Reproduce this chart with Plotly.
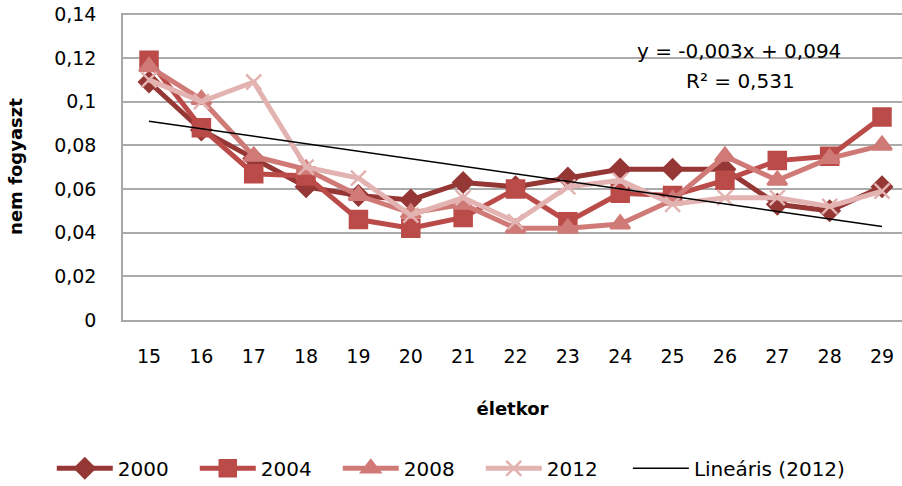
import numpy as np
import plotly.graph_objects as go

eletkor = list(range(15, 30))

ev_2000 = [0.109, 0.087, 0.074, 0.061, 0.057, 0.055, 0.063, 0.061, 0.065, 0.069, 0.069, 0.069, 0.053, 0.050, 0.061]
ev_2004 = [0.119, 0.088, 0.067, 0.066, 0.046, 0.042, 0.047, 0.060, 0.045, 0.058, 0.057, 0.064, 0.073, 0.075, 0.093]
ev_2008 = [0.116, 0.101, 0.075, 0.069, 0.057, 0.049, 0.053, 0.042, 0.042, 0.044, 0.055, 0.075, 0.064, 0.074, 0.080]
ev_2012 = [0.110, 0.100, 0.109, 0.070, 0.065, 0.048, 0.056, 0.045, 0.061, 0.064, 0.053, 0.056, 0.056, 0.052, 0.059]

y_ticks = [0, 0.02, 0.04, 0.06, 0.08, 0.1, 0.12, 0.14]
y_tick_text = ['0', '0,02', '0,04', '0,06', '0,08', '0,1', '0,12', '0,14']

egyenlet = 'y = -0,003x + 0,094'
r2 = 'R² = 0,531'

FONT = 'DejaVu Sans'

# lineáris trend a 2012-es sorra (x = 1..15, mint az Excelben)
idx = np.arange(1, len(ev_2012) + 1)
meredekseg, tengely = np.polyfit(idx, ev_2012, 1)
trend = meredekseg * idx + tengely

fig = go.Figure()

sorok = [
    ('2000', ev_2000, '#953735', 'diamond', 15),
    ('2004', ev_2004, '#BB4B48', 'square', 17),
    ('2008', ev_2008, '#D07A77', 'triangle-up', 17),
    ('2012', ev_2012, '#E3B3B2', 'x-thin', 15),
]

for nev, ertekek, szin, jel, meret in sorok:
    fig.add_trace(go.Scatter(
        x=eletkor,
        y=ertekek,
        name=nev,
        mode='lines+markers',
        line=dict(color=szin, width=5),
        marker=dict(symbol=jel, size=meret, color=szin,
                    line=dict(color=szin, width=2.5))
    ))

fig.add_trace(go.Scatter(
    x=eletkor,
    y=trend,
    name='Lineáris (2012)',
    mode='lines',
    line=dict(color='black', width=1.5),
    legend='legend2'
))

W, H = 902, 486
L, T, B = 123, 13, 166
x_min, x_max = 14.503, 29.382

def px_to_x(px):
    # pixel -> x adat
    return x_min + (px - L) / (W - L) * (x_max - x_min)

fig.add_annotation(x=px_to_x(739), y=0.1232, xref='x', yref='y', text=egyenlet,
                   showarrow=False, font=dict(family=FONT, size=20, color='black'))
fig.add_annotation(x=px_to_x(740), y=0.1096, xref='x', yref='y', text=r2,
                   showarrow=False, font=dict(family=FONT, size=20, color='black'))

legend_kozos = dict(
    orientation='h',
    xanchor='left',
    xref='container',
    y=0.0364,
    yanchor='middle',
    yref='container',
    font=dict(family=FONT, size=20),
    itemwidth=56,
    bgcolor='rgba(0,0,0,0)'
)

fig.update_layout(
    width=W,
    height=H,
    paper_bgcolor='white',
    plot_bgcolor='white',
    font=dict(family=FONT, size=19, color='black'),
    margin=dict(l=L, r=0, t=T, b=B, autoexpand=False),
    xaxis=dict(
        range=[x_min, x_max],
        tickvals=eletkor,
        showgrid=False,
        zeroline=False,
        showline=True,
        linecolor='#A6A6A6',
        linewidth=1.5,
        ticks='',
        automargin=False,
        ticklabelstandoff=18,
        tickfont=dict(family=FONT, size=19),
        title=dict(text='<b>életkor</b>', font=dict(family=FONT, size=18), standoff=37)
    ),
    yaxis=dict(
        range=[0, 0.1406],
        tickvals=y_ticks,
        ticktext=y_tick_text,
        showgrid=True,
        gridcolor='#ABABAB',
        gridwidth=1.5,
        zeroline=False,
        showline=True,
        linecolor='#A6A6A6',
        linewidth=1.5,
        ticks='',
        automargin=False,
        ticklabeloverflow='allow',
        ticklabelstandoff=21,
        tickfont=dict(family=FONT, size=19),
        title=dict(text='<b>nem fogyaszt</b>', font=dict(family=FONT, size=18), standoff=27)
    ),
    showlegend=True,
    legend=dict(legend_kozos, x=0.0574, entrywidth=72),
    legend2=dict(legend_kozos, x=0.6961)
)

# az oldal alapértelmezett 8 px-es margója nélkül a figura kitölti az ablakot
fig.write_html('out.html', config={'displayModeBar': False},
               post_script="document.body.style.margin='0';")
